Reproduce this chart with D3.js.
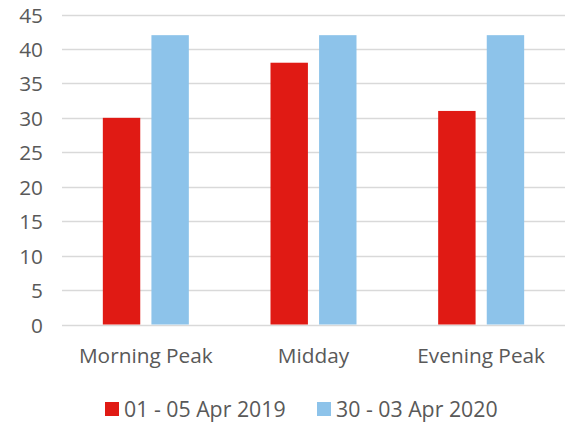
<!DOCTYPE html>
<html><head><meta charset="utf-8">
<script src="https://cdn.jsdelivr.net/npm/d3@7"></script>
<style>
html,body{margin:0;padding:0;background:#fff;}
svg{display:block;}
text{font-family:"Open Sans",sans-serif;fill:#595959;}
</style></head>
<body>
<svg id="chart" width="568" height="422"></svg>
<script>
const categories = ["Morning Peak", "Midday", "Evening Peak"];
const seriesNames = ["01 - 05 Apr 2019", "30 - 03 Apr 2020"];
const values2019 = [30, 38, 31];
const values2020 = [42, 42, 42];
const yTicks = [0, 5, 10, 15, 20, 25, 30, 35, 40, 45];
const colors = ["#E01A14", "#8DC3EA"];

(function () {
const svg = d3.select("#chart");
const mLeft = 62, mRight = 565, mTop = 14.5, mBottom = 324.5;
const fs = 20.8;

const y = d3.scaleLinear().domain([0, 45]).range([mBottom, mTop]);
const x0 = d3.scaleBand().domain(categories).range([mLeft, mRight]).padding(0);
const x1 = d3.scaleBand().domain(seriesNames).range([-43, 43]).paddingInner(0.23);

// gridlines
svg.append("g").selectAll("line").data(yTicks).join("line")
  .attr("x1", mLeft).attr("x2", mRight)
  .attr("y1", d => Math.round(y(d)) + 0.5).attr("y2", d => Math.round(y(d)) + 0.5)
  .attr("stroke", "#D9D9D9").attr("stroke-width", 1.5);

// y axis labels
const yAxis = d3.axisLeft(y).tickValues(yTicks).tickSize(0).tickPadding(0);
const gy = svg.append("g").attr("transform", "translate(43,0)").call(yAxis);
gy.select(".domain").remove();
gy.selectAll("text").attr("font-size", fs).attr("dy", "0.36em").attr("fill", "#595959").style("font-family", "'Open Sans',sans-serif");

// bars
const data = [values2019, values2020];
const g = svg.append("g");
categories.forEach((c, i) => {
  const cx = x0(c) + x0.bandwidth() / 2;
  seriesNames.forEach((s, j) => {
    g.append("rect")
      .attr("x", cx + x1(s))
      .attr("y", y(data[j][i]))
      .attr("width", x1.bandwidth())
      .attr("height", y(0) - y(data[j][i]))
      .attr("fill", colors[j]);
  });
});

// x axis labels
const xAxis = d3.axisBottom(x0).tickSize(0).tickPadding(0);
const gx = svg.append("g").attr("transform", "translate(0,362.5)").call(xAxis);
gx.select(".domain").remove();
gx.selectAll("text").attr("font-size", fs).attr("dy", 0).attr("fill", "#595959").style("font-family", "'Open Sans',sans-serif");

// legend
const legend = svg.append("g");
const lx = [105, 317];
seriesNames.forEach((s, j) => {
  legend.append("rect").attr("x", lx[j]).attr("y", 402).attr("width", 14).attr("height", 14).attr("fill", colors[j]);
  legend.append("text").attr("x", lx[j] + 19).attr("y", 416.5).attr("font-size", 21.3).text(s);
});
})();
</script>
</body></html>
